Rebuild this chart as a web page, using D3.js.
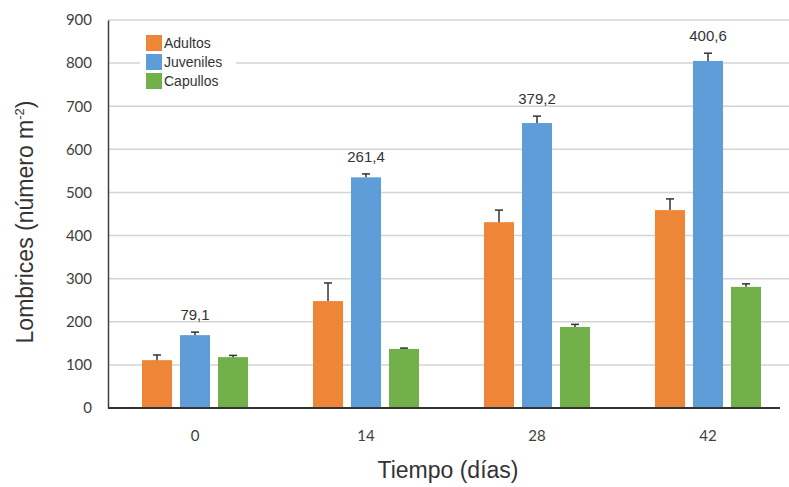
<!DOCTYPE html>
<html>
<head>
<meta charset="utf-8">
<script src="https://cdn.jsdelivr.net/npm/d3@7"></script>
<style>
  body { margin: 0; background: #fff; }
</style>
</head>
<body>
<script>
// Chart data
var days = ["0", "14", "28", "42"]
var series = ["Adultos", "Juveniles", "Capullos"]
var adultos = [111, 248, 431, 459]
var juveniles = [169, 535, 661, 805]
var capullos = [118, 137, 188, 281]
var errAdultos = [12, 42, 28, 26]
var errJuveniles = [7, 8, 16, 18]
var errCapullos = [4, 2, 6, 7]
var juvLabels = ["79,1", "261,4", "379,2", "400,6"]
var yTicks = [0, 100, 200, 300, 400, 500, 600, 700, 800, 900]
var colors = ["#ee8638", "#5e9dd8", "#72b04a"]

function main() {
    var width = 789, height = 487
    var left = 108, top = 20, bottom = 408, right = 789

    var svg = d3.select("body").append("svg")
        .attr("width", width)
        .attr("height", height)

    // Scales
    var x0 = d3.scaleBand().domain(days).range([142, 761]).paddingInner(0.38).paddingOuter(0)
    var x1 = d3.scaleBand().domain(series).range([0, x0.bandwidth()]).paddingInner(0.21)
    var y = d3.scaleLinear().domain([0, 900]).range([bottom, top])

    // Gridlines
    svg.append("g").selectAll("line")
        .data(yTicks.slice(1))
        .enter().append("line")
        .attr("x1", left).attr("x2", right)
        .attr("y1", function(d) { return y(d) })
        .attr("y2", function(d) { return y(d) })
        .attr("stroke", "#d4d4d4")
        .attr("stroke-width", 1.5)

    // Y axis
    var yAxis = d3.axisLeft(y).tickValues(yTicks).tickSize(0).tickPadding(16)
    var gy = svg.append("g")
        .attr("transform", "translate(" + left + ",0)")
        .call(yAxis)
    gy.select(".domain").attr("stroke", "#404040").attr("stroke-width", 1.5)
    gy.selectAll("text")
        .attr("font-family", "Lato, 'Open Sans', sans-serif")
        .attr("font-size", 15)
        .attr("fill", "#404040")

    // Bars
    var rows = days.map(function(d, i) {
        return [
            {day: d, s: "Adultos", v: adultos[i], e: errAdultos[i], c: colors[0]},
            {day: d, s: "Juveniles", v: juveniles[i], e: errJuveniles[i], c: colors[1]},
            {day: d, s: "Capullos", v: capullos[i], e: errCapullos[i], c: colors[2]}
        ]
    })

    var group = svg.selectAll("g.grp")
        .data(rows)
        .enter().append("g")
        .attr("class", "grp")
        .attr("transform", function(d, i) { return "translate(" + x0(days[i]) + ",0)" })

    group.selectAll("rect")
        .data(function(d) { return d })
        .enter().append("rect")
        .attr("x", function(d) { return x1(d.s) })
        .attr("y", function(d) { return y(d.v) })
        .attr("width", x1.bandwidth())
        .attr("height", function(d) { return y(0) - y(d.v) })
        .attr("fill", function(d) { return d.c })

    // Error bars
    var eb = group.selectAll("g.err")
        .data(function(d) { return d })
        .enter().append("g")
        .attr("class", "err")
    eb.append("line")
        .attr("x1", function(d) { return x1(d.s) + x1.bandwidth() / 2 })
        .attr("x2", function(d) { return x1(d.s) + x1.bandwidth() / 2 })
        .attr("y1", function(d) { return y(d.v) })
        .attr("y2", function(d) { return y(d.v + d.e) })
        .attr("stroke", "#333").attr("stroke-width", 1.5)
    eb.append("line")
        .attr("x1", function(d) { return x1(d.s) + x1.bandwidth() / 2 - 4 })
        .attr("x2", function(d) { return x1(d.s) + x1.bandwidth() / 2 + 4 })
        .attr("y1", function(d) { return y(d.v + d.e) })
        .attr("y2", function(d) { return y(d.v + d.e) })
        .attr("stroke", "#333").attr("stroke-width", 1.5)

    // Labels above the Juveniles bars
    svg.append("g").selectAll("text")
        .data(days)
        .enter().append("text")
        .attr("x", function(d) { return x0(d) + x1("Juveniles") + x1.bandwidth() / 2 })
        .attr("y", function(d, i) { return y(juveniles[i] + errJuveniles[i]) - 12 })
        .attr("text-anchor", "middle")
        .attr("font-family", "'Liberation Sans', Arial, sans-serif")
        .attr("font-size", 15)
        .attr("fill", "#333")
        .text(function(d, i) { return juvLabels[i] })

    // X axis baseline and labels
    svg.append("line")
        .attr("x1", left).attr("x2", 780)
        .attr("y1", y(0)).attr("y2", y(0))
        .attr("stroke", "#333").attr("stroke-width", 2)

    var xAxis = d3.axisBottom(x0).tickSize(0).tickPadding(22)
    var gx = svg.append("g")
        .attr("transform", "translate(0," + y(0) + ")")
        .call(xAxis)
    gx.select(".domain").remove()
    gx.selectAll("text")
        .attr("font-family", "Lato, 'Open Sans', sans-serif")
        .attr("font-size", 15)
        .attr("fill", "#404040")

    // Axis titles
    svg.append("text")
        .attr("x", 448).attr("y", 478)
        .attr("text-anchor", "middle")
        .attr("font-family", "'Liberation Sans', Arial, sans-serif")
        .attr("font-size", 23)
        .attr("fill", "#333")
        .text("Tiempo (días)")

    var yt = svg.append("text")
        .attr("transform", "translate(33,222) rotate(-90)")
        .attr("text-anchor", "middle")
        .attr("font-family", "'Liberation Sans', Arial, sans-serif")
        .attr("font-size", 23)
        .attr("fill", "#333")
    yt.append("tspan").text("Lombrices (número m")
    yt.append("tspan").attr("dy", -9).attr("font-size", 13).text("-2")
    yt.append("tspan").attr("dy", 9).text(")")

    // Legend
    var legend = svg.append("g").attr("transform", "translate(140,32)")
    legend.append("rect")
        .attr("width", 96).attr("height", 60)
        .attr("fill", "#fff")
    var item = legend.selectAll("g")
        .data(series)
        .enter().append("g")
        .attr("transform", function(d, i) { return "translate(6," + (3 + i * 19) + ")" })
    item.append("rect")
        .attr("width", 16).attr("height", 16)
        .attr("fill", function(d, i) { return colors[i] })
    item.append("text")
        .attr("x", 18).attr("y", 13)
        .attr("font-family", "'Liberation Sans', Arial, sans-serif")
        .attr("font-size", 14)
        .attr("fill", "#333")
        .text(function(d) { return d })
}
main()
</script>
</body>
</html>
